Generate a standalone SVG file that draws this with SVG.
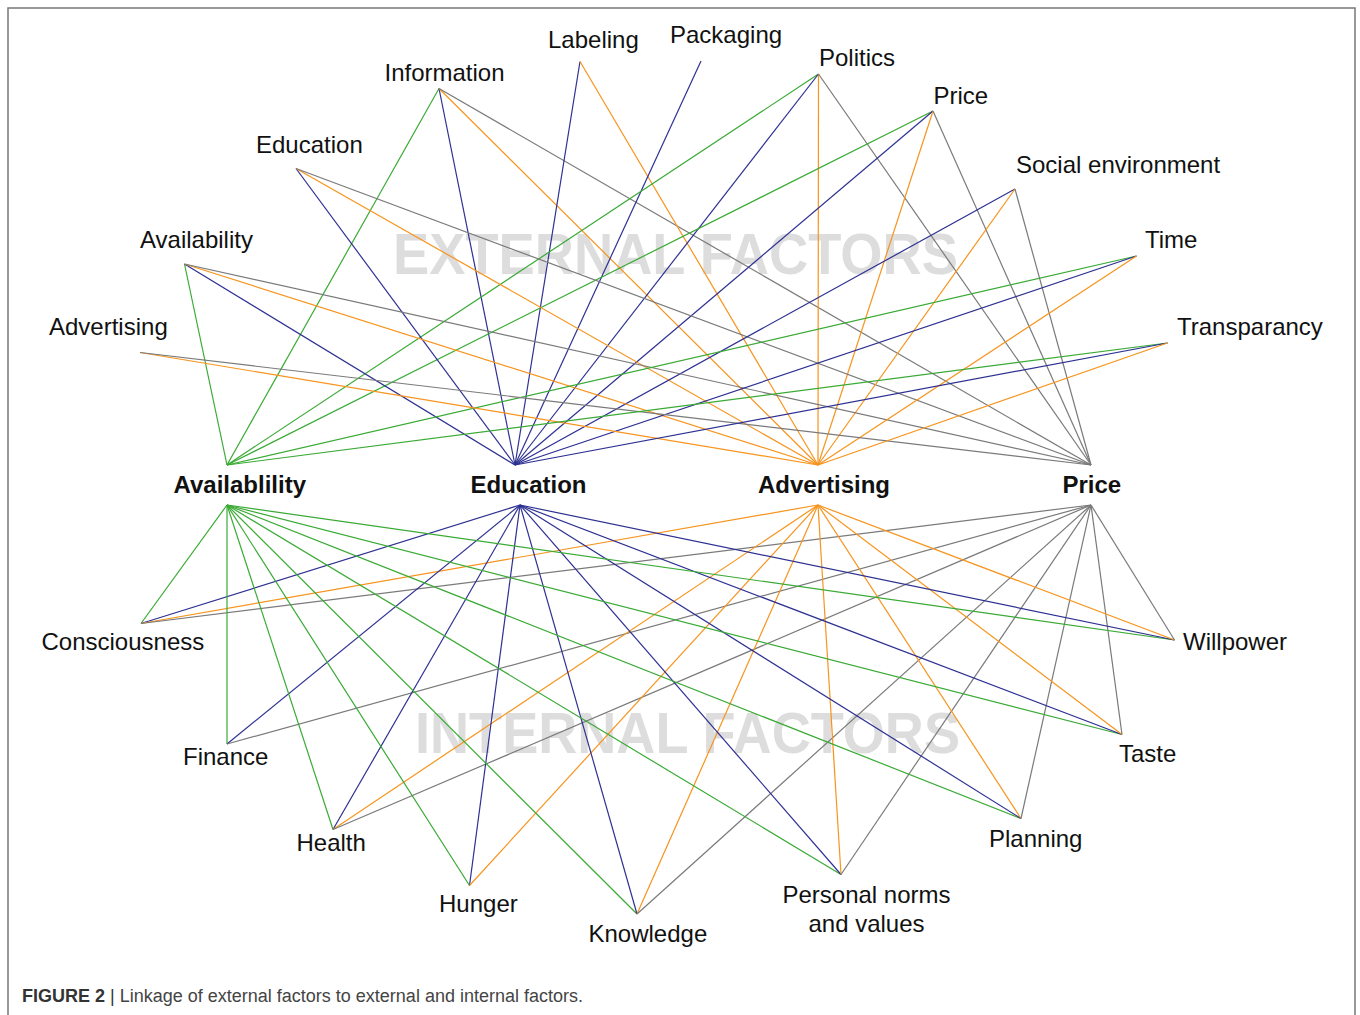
<svg xmlns="http://www.w3.org/2000/svg" width="1360" height="1015" viewBox="0 0 1360 1015">
<style>
text{font-family:"Liberation Sans",Arial,sans-serif;fill:#111}
.lbl{font-size:24px}
.hub{font-size:24px;font-weight:bold}
.wm{font-size:57px;font-weight:bold;fill:#dddddd}
line{stroke-width:1.2;fill:none}
.g{stroke:#3aaa35}
.b{stroke:#2e3192}
.o{stroke:#f7941d}
.p{stroke:#7a7a7a}
.cap{font-size:18px;fill:#444}
</style>
<rect width="1360" height="1015" fill="#ffffff"/>
<path d="M8,1015 V8 H1355 V1015" fill="none" stroke="#777" stroke-width="1.5"/>
<g id="watermarks">
<text class="wm" x="393" y="274" textLength="565" lengthAdjust="spacingAndGlyphs">EXTERNAL FACTORS</text>
<text class="wm" x="415" y="753" textLength="545" lengthAdjust="spacingAndGlyphs">INTERNAL FACTORS</text>
</g>
<g id="connectors">
<!-- Information -->
<line class="g" x1="439" y1="88.5" x2="227" y2="465"/>
<line class="b" x1="439" y1="88.5" x2="515" y2="465"/>
<line class="o" x1="439" y1="88.5" x2="818" y2="465"/>
<line class="p" x1="439" y1="88.5" x2="1091" y2="465"/>
<!-- Labeling -->
<line class="b" x1="580" y1="61.5" x2="515" y2="465"/>
<line class="o" x1="580" y1="61.5" x2="818" y2="465"/>
<!-- Packaging -->
<line class="b" x1="701" y1="61" x2="515" y2="465"/>
<!-- Politics -->
<line class="g" x1="818.5" y1="74" x2="227" y2="465"/>
<line class="b" x1="818.5" y1="74" x2="515" y2="465"/>
<line class="o" x1="818.5" y1="74" x2="818" y2="465"/>
<line class="p" x1="818.5" y1="74" x2="1091" y2="465"/>
<!-- Price ext -->
<line class="g" x1="933" y1="111" x2="227" y2="465"/>
<line class="b" x1="933" y1="111" x2="515" y2="465"/>
<line class="o" x1="933" y1="111" x2="818" y2="465"/>
<line class="p" x1="933" y1="111" x2="1091" y2="465"/>
<!-- Education ext -->
<line class="b" x1="296" y1="168.5" x2="515" y2="465"/>
<line class="o" x1="296" y1="168.5" x2="818" y2="465"/>
<line class="p" x1="296" y1="168.5" x2="1091" y2="465"/>
<!-- Social environment -->
<line class="b" x1="1015" y1="189" x2="515" y2="465"/>
<line class="o" x1="1015" y1="189" x2="818" y2="465"/>
<line class="p" x1="1015" y1="189" x2="1091" y2="465"/>
<!-- Availability ext -->
<line class="g" x1="184.5" y1="264" x2="227" y2="465"/>
<line class="b" x1="184.5" y1="264" x2="515" y2="465"/>
<line class="o" x1="184.5" y1="264" x2="818" y2="465"/>
<line class="p" x1="184.5" y1="264" x2="1091" y2="465"/>
<!-- Time -->
<line class="g" x1="1136.5" y1="256" x2="227" y2="465"/>
<line class="b" x1="1136.5" y1="256" x2="515" y2="465"/>
<line class="o" x1="1136.5" y1="256" x2="818" y2="465"/>
<!-- Advertising ext -->
<line class="o" x1="140" y1="352.5" x2="818" y2="465"/>
<line class="p" x1="140" y1="352.5" x2="1091" y2="465"/>
<!-- Transparancy -->
<line class="g" x1="1167.5" y1="343" x2="227" y2="465"/>
<line class="b" x1="1167.5" y1="343" x2="515" y2="465"/>
<line class="o" x1="1167.5" y1="343" x2="818" y2="465"/>
<!-- Consciousness -->
<line class="g" x1="141" y1="623.5" x2="227" y2="505"/>
<line class="b" x1="141" y1="623.5" x2="520" y2="505"/>
<line class="o" x1="141" y1="623.5" x2="818" y2="505"/>
<line class="p" x1="141" y1="623.5" x2="1091" y2="505"/>
<!-- Finance -->
<line class="g" x1="227" y1="744" x2="227" y2="505"/>
<line class="b" x1="227" y1="744" x2="520" y2="505"/>
<line class="p" x1="227" y1="744" x2="1091" y2="505"/>
<!-- Health -->
<line class="g" x1="333" y1="829.5" x2="227" y2="505"/>
<line class="b" x1="333" y1="829.5" x2="520" y2="505"/>
<line class="o" x1="333" y1="829.5" x2="818" y2="505"/>
<line class="p" x1="333" y1="829.5" x2="1091" y2="505"/>
<!-- Hunger -->
<line class="g" x1="469.5" y1="885.5" x2="227" y2="505"/>
<line class="b" x1="469.5" y1="885.5" x2="520" y2="505"/>
<line class="o" x1="469.5" y1="885.5" x2="818" y2="505"/>
<!-- Knowledge -->
<line class="g" x1="637" y1="914" x2="227" y2="505"/>
<line class="b" x1="637" y1="914" x2="520" y2="505"/>
<line class="o" x1="637" y1="914" x2="818" y2="505"/>
<line class="p" x1="637" y1="914" x2="1091" y2="505"/>
<!-- Personal norms -->
<line class="g" x1="841" y1="874.5" x2="227" y2="505"/>
<line class="b" x1="841" y1="874.5" x2="520" y2="505"/>
<line class="o" x1="841" y1="874.5" x2="818" y2="505"/>
<line class="p" x1="841" y1="874.5" x2="1091" y2="505"/>
<!-- Planning -->
<line class="g" x1="1021" y1="818.5" x2="227" y2="505"/>
<line class="b" x1="1021" y1="818.5" x2="520" y2="505"/>
<line class="o" x1="1021" y1="818.5" x2="818" y2="505"/>
<line class="p" x1="1021" y1="818.5" x2="1091" y2="505"/>
<!-- Taste -->
<line class="g" x1="1122" y1="734.5" x2="227" y2="505"/>
<line class="b" x1="1122" y1="734.5" x2="520" y2="505"/>
<line class="o" x1="1122" y1="734.5" x2="818" y2="505"/>
<line class="p" x1="1122" y1="734.5" x2="1091" y2="505"/>
<!-- Willpower -->
<line class="g" x1="1174.5" y1="640" x2="227" y2="505"/>
<line class="b" x1="1174.5" y1="640" x2="520" y2="505"/>
<line class="o" x1="1174.5" y1="640" x2="818" y2="505"/>
<line class="p" x1="1174.5" y1="640" x2="1091" y2="505"/>
</g>
<g id="hub-availability"><text class="hub" x="173.5" y="493">Availablility</text></g>
<g id="hub-education"><text class="hub" x="470.5" y="493">Education</text></g>
<g id="hub-advertising"><text class="hub" x="758" y="493">Advertising</text></g>
<g id="hub-price"><text class="hub" x="1062.5" y="493">Price</text></g>
<g id="ext-information"><text class="lbl" x="384.5" y="81">Information</text></g>
<g id="ext-labeling"><text class="lbl" x="548" y="48">Labeling</text></g>
<g id="ext-packaging"><text class="lbl" x="670" y="43">Packaging</text></g>
<g id="ext-politics"><text class="lbl" x="819" y="66">Politics</text></g>
<g id="ext-price"><text class="lbl" x="933.5" y="103.5">Price</text></g>
<g id="ext-education"><text class="lbl" x="256" y="152.5">Education</text></g>
<g id="ext-social"><text class="lbl" x="1016" y="173">Social environment</text></g>
<g id="ext-availability"><text class="lbl" x="140" y="248">Availability</text></g>
<g id="ext-time"><text class="lbl" x="1145" y="247.5">Time</text></g>
<g id="ext-advertising"><text class="lbl" x="49" y="335">Advertising</text></g>
<g id="ext-transparancy"><text class="lbl" x="1177" y="334.5">Transparancy</text></g>
<g id="int-consciousness"><text class="lbl" x="41.5" y="650">Consciousness</text></g>
<g id="int-finance"><text class="lbl" x="183" y="765">Finance</text></g>
<g id="int-health"><text class="lbl" x="296.5" y="851">Health</text></g>
<g id="int-hunger"><text class="lbl" x="439" y="912">Hunger</text></g>
<g id="int-knowledge"><text class="lbl" x="588.5" y="942">Knowledge</text></g>
<g id="int-personal"><text class="lbl" x="866.5" y="903" text-anchor="middle">Personal norms</text><text class="lbl" x="866.5" y="932" text-anchor="middle">and values</text></g>
<g id="int-planning"><text class="lbl" x="989" y="847">Planning</text></g>
<g id="int-taste"><text class="lbl" x="1119" y="762">Taste</text></g>
<g id="int-willpower"><text class="lbl" x="1183" y="650">Willpower</text></g>
<g id="caption"><text class="cap" x="22" y="1002"><tspan font-weight="bold" fill="#333">FIGURE 2</tspan><tspan fill="#333"> | </tspan>Linkage of external factors to external and internal factors.</text></g>
</svg>
